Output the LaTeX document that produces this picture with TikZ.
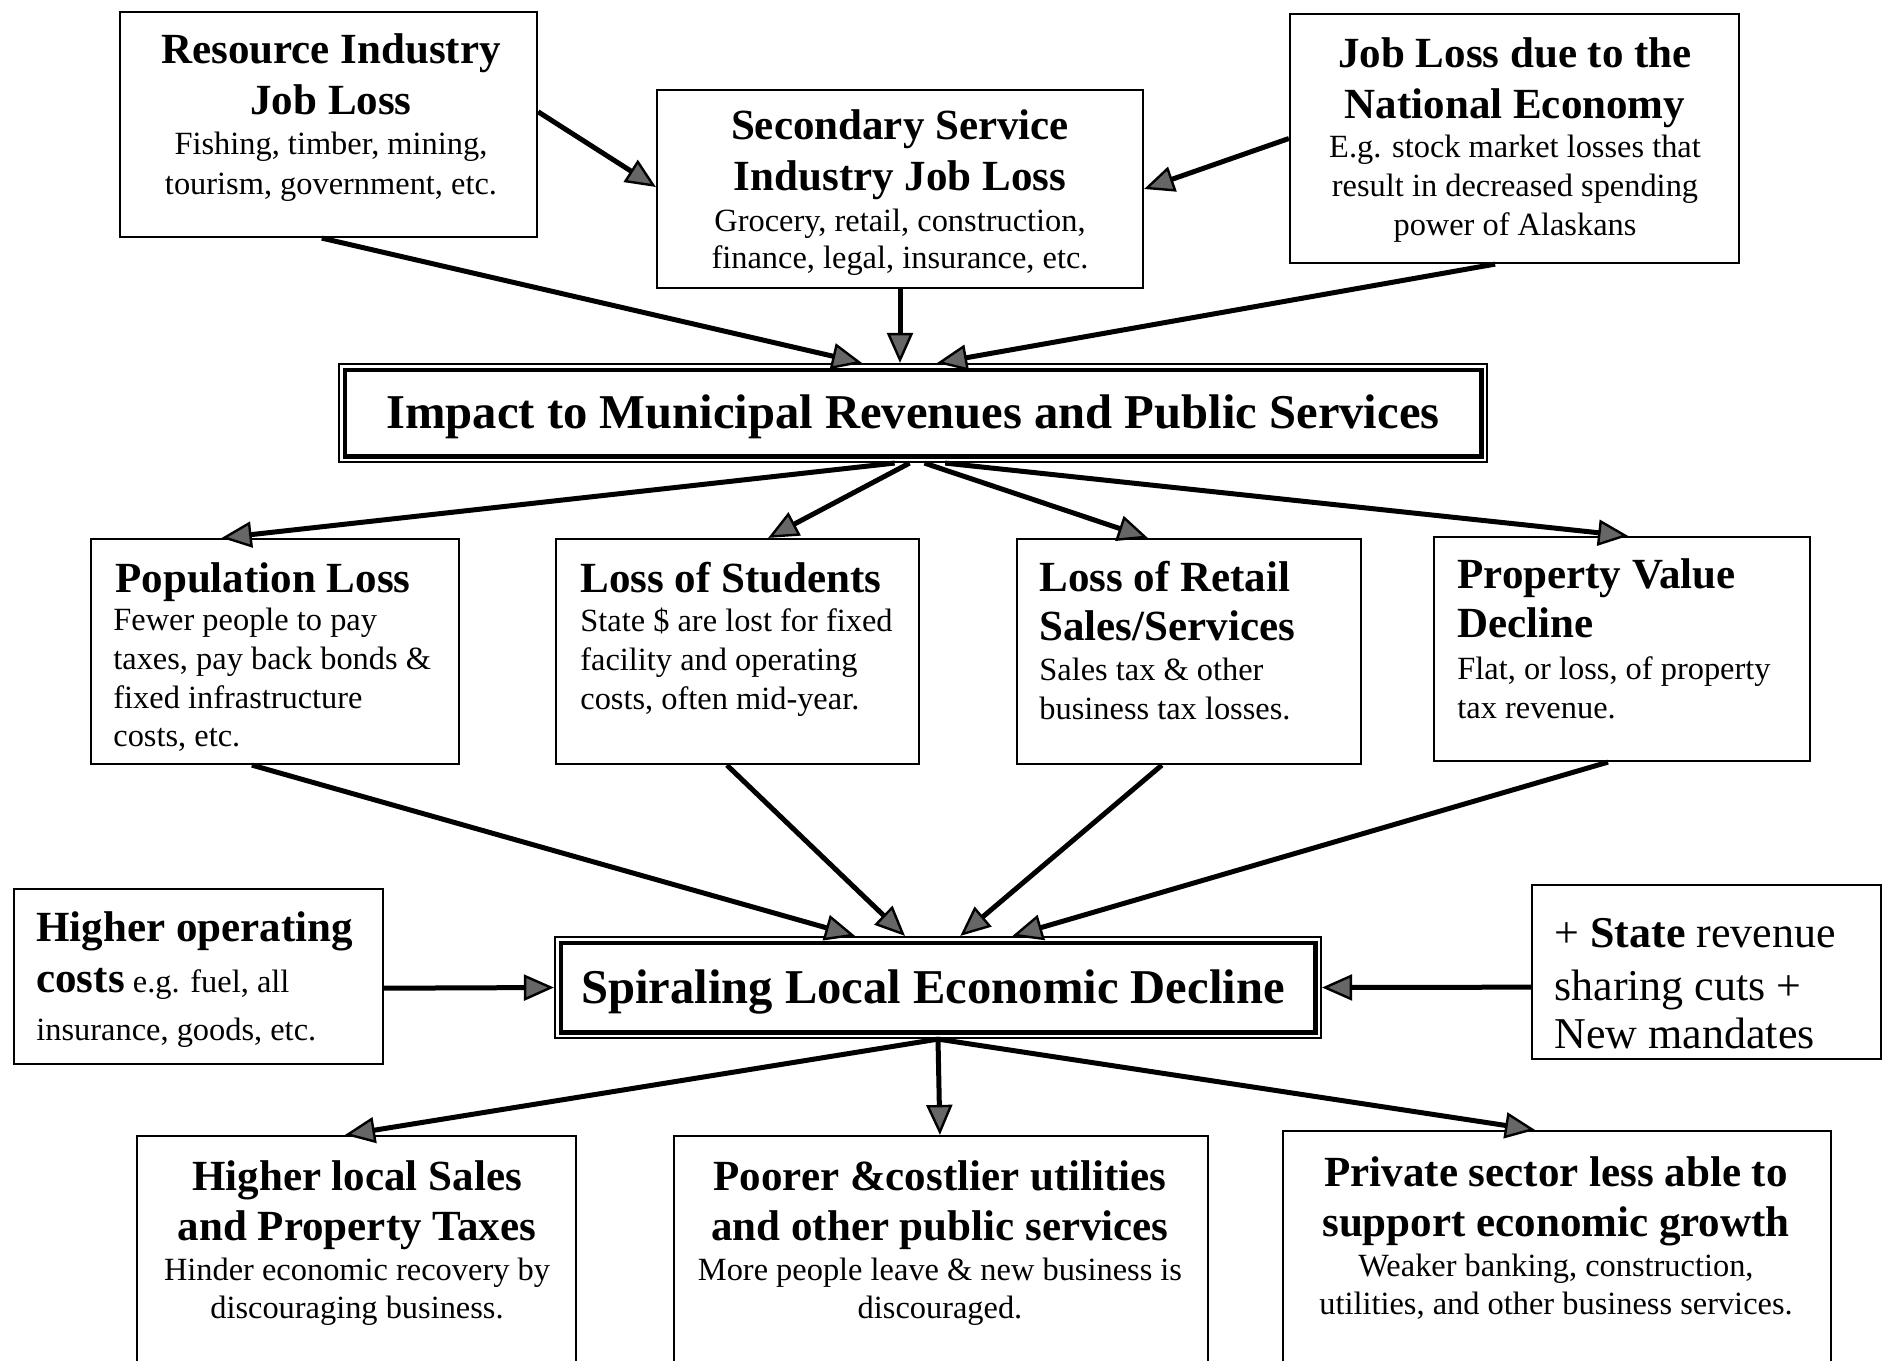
\documentclass[tikz,border=0pt]{standalone}
\usepackage{fontspec}
\setmainfont{Liberation Serif}
\usetikzlibrary{arrows.meta,calc}
\newcommand\mytitle[1]{\fontsize{21.5}{#1}\selectfont\bfseries}
\newcommand\mybody[1]{\fontsize{16.2}{#1}\selectfont}
\newcommand\mybig{\fontsize{24.3}{28}\selectfont\bfseries}
\newcommand\mystate{\fontsize{22}{25}\selectfont}
\begin{document}
\begin{tikzpicture}[x=0.5pt,y=-0.5pt,
  box/.style={draw,line width=1.1pt,inner sep=0pt},
  txt/.style={inner sep=0pt,align=center},
  txtl/.style={inner sep=0pt,align=left},
  arr/.style={line width=2.5pt,-{Triangle[length=15pt,width=13pt,line width=1.2pt,fill=black!60]}}]
\useasboundingbox[fill=white] (0,0) rectangle (1883,1360);
\clip (0,0) rectangle (1883,1360);
% boxes
\node[box,minimum width=208.5pt,minimum height=112.5pt] (res) at (328.5,124.5) {};
\node[box,minimum width=243pt,minimum height=99pt] (sec) at (900,189) {};
\node[box,minimum width=224.5pt,minimum height=124.5pt] (nat) at (1514.5,138.5) {};
\node[box,minimum width=574pt,minimum height=49pt] (imp) at (913,413) {};
\draw[line width=2.4pt] ($(imp.north west)+(7,7)$) rectangle ($(imp.south east)+(-7,-7)$);
\node[box,minimum width=184pt,minimum height=112.5pt] (pop) at (275,651.5) {};
\node[box,minimum width=181.5pt,minimum height=112.5pt] (stu) at (737.5,651.5) {};
\node[box,minimum width=172pt,minimum height=112.5pt] (ret) at (1189,651.5) {};
\node[box,minimum width=188pt,minimum height=112pt] (pro) at (1622,649) {};
\node[box,minimum width=184.5pt,minimum height=87.5pt] (hoc) at (198.5,976.5) {};
\node[box,minimum width=383pt,minimum height=50.5pt] (spi) at (938,987.5) {};
\draw[line width=2.4pt] ($(spi.north west)+(7,7)$) rectangle ($(spi.south east)+(-7,-7)$);
\node[box,minimum width=174.5pt,minimum height=87pt] (sta) at (1706.5,972) {};
\node[box,minimum width=219.5pt,minimum height=132pt] (hls) at (356.5,1268) {};
\node[box,minimum width=267pt,minimum height=132pt] (poo) at (941,1268) {};
\node[box,minimum width=274pt,minimum height=134.5pt] (pri) at (1557,1265.5) {};
% texts
\node[txt,anchor=north,font={\mytitle{25.5}}] (resT) at (331,33) {Resource Industry\\Job Loss};
\node[txt,anchor=north,font={\mybody{20}}] (resB) at (331,132) {Fishing, timber, mining,\\tourism, government, etc.};
\node[txt,anchor=north,font={\mytitle{25.5}}] (secT) at (900,109) {Secondary Service\\Industry Job Loss};
\node[txt,anchor=north,font={\mybody{18.5}}] (secB) at (900,209) {Grocery, retail, construction,\\finance, legal, insurance, etc.};
\node[txt,anchor=north,font={\mytitle{25.5}}] (natT) at (1515,37) {Job Loss due to the\\National Economy};
\node[txt,anchor=north,font={\mybody{19.3}}] (natB) at (1515,135) {E.g. stock market losses that\\result in decreased spending\\power of Alaskans};
\node[txt,anchor=base,font=\mybig] (impT) at (913,428) {Impact to Municipal Revenues and Public Services};
\node[txtl,anchor=base west,font={\mytitle{25.5}}] (popT) at (115,592) {Population Loss};
\node[txtl,anchor=north west,font={\mybody{19.3}}] (popB) at (113,608) {Fewer people to pay\\taxes, pay back bonds \&\\fixed infrastructure\\costs, etc.};
\node[txtl,anchor=base west,font={\mytitle{25.5}}] (stuT) at (580,592) {Loss of Students};
\node[txtl,anchor=north west,font={\mybody{19.3}}] (stuB) at (580,608) {State \$ are lost for fixed\\facility and operating\\costs, often mid-year.};
\node[txtl,anchor=north west,font={\mytitle{24.5}}] (retT) at (1039,561) {Loss of Retail\\Sales/Services};
\node[txtl,anchor=north west,font={\mybody{19.5}}] (retB) at (1039,658) {Sales tax \& other\\business tax losses.};
\node[txtl,anchor=north west,font={\mytitle{24.5}}] (proT) at (1457,558) {Property Value\\Decline};
\node[txtl,anchor=north west,font={\mybody{19.5}}] (proB) at (1457,656) {Flat, or loss, of property\\tax revenue.};
\node[txtl,anchor=base west,font={\mytitle{25.5}}] (hoc1) at (36,941) {Higher operating};
\node[txtl,anchor=base west,font={\mybody{20}}] (hoc2) at (36,992) {{\mytitle{25.5}costs} e.g. fuel, all};
\node[txtl,anchor=base west,font={\mybody{20}}] (hoc3) at (36,1040) {insurance, goods, etc.};
\node[txt,anchor=base,font=\mybig] (spiT) at (933,1003) {Spiraling Local Economic Decline};
\node[txtl,anchor=base west,font=\mystate] (sta1) at (1554,947) {+ \textbf{State} revenue};
\node[txtl,anchor=base west,font=\mystate] (sta2) at (1554,1000) {sharing cuts +};
\node[txtl,anchor=base west,font=\mystate] (sta3) at (1554,1048) {New mandates};
\node[txt,anchor=north,font={\mytitle{25}}] (hlsT) at (357,1160) {Higher local Sales\\and Property Taxes};
\node[txt,anchor=north,font={\mybody{19}}] (hlsB) at (357,1258) {Hinder economic recovery by\\discouraging business.};
\node[txt,anchor=north,font={\mytitle{25}}] (pooT) at (940,1160) {Poorer \&costlier utilities\\and other public services};
\node[txt,anchor=north,font={\mybody{19}}] (pooB) at (940,1258) {More people leave \& new business is\\discouraged.};
\node[txt,anchor=north,font={\mytitle{25}}] (priT) at (1556,1156) {Private sector less able to\\support economic growth};
\node[txt,anchor=north,font={\mybody{19}}] (priB) at (1556,1254) {Weaker banking, construction,\\utilities, and other business services.};
% arrows
\draw[arr] ($(res.north east)!0.444!(res.south east)$) -- ($(sec.north west)!0.49!(sec.south west)$);
\draw[arr] ($(res.south west)!0.484!(res.south east)$) -- ($(imp.north west)!0.4556!(imp.north east)$);
\draw[arr] (sec.south) -- (sec.south |- imp.north);
\draw[arr] (nat.west) -- (sec.east);
\draw[arr] ($(nat.south west)!0.457!(nat.south east)$) -- ($(imp.north west)!0.521!(imp.north east)$);
\draw[arr] ($(imp.south west)!0.484!(imp.south east)$) -- ($(pop.north west)!0.356!(pop.north east)$);
\draw[arr] ($(imp.south west)!0.497!(imp.south east)$) -- ($(stu.north west)!0.584!(stu.north east)$);
\draw[arr] ($(imp.south west)!0.510!(imp.south east)$) -- ($(ret.north west)!0.381!(ret.north east)$);
\draw[arr] ($(imp.south west)!0.528!(imp.south east)$) -- ($(pro.north west)!0.516!(pro.north east)$);
\draw[arr] ($(pop.south west)!0.4375!(pop.south east)$) -- ($(spi.north west)!0.392!(spi.north east)$);
\draw[arr] ($(stu.south west)!0.471!(stu.south east)$) -- ($(spi.north west)!0.457!(spi.north east)$);
\draw[arr] ($(ret.south west)!0.4215!(ret.south east)$) -- ($(spi.north west)!0.529!(spi.north east)$);
\draw[arr] ($(pro.south west)!0.463!(pro.south east)$) -- ($(spi.north west)!0.597!(spi.north east)$);
\draw[arr] ($(hoc.north east)!0.566!(hoc.south east)$) -- (spi.west);
\draw[arr] ($(sta.north west)!0.586!(sta.south west)$) -- (spi.east);
\draw[arr] (spi.south) -- ($(hls.north west)!0.474!(hls.north east)$);
\draw[arr] (spi.south) -- ($(poo.north west)!0.498!(poo.north east)$);
\draw[arr] (spi.south) -- ($(pri.north west)!0.46!(pri.north east)$);
\end{tikzpicture}
\end{document}
